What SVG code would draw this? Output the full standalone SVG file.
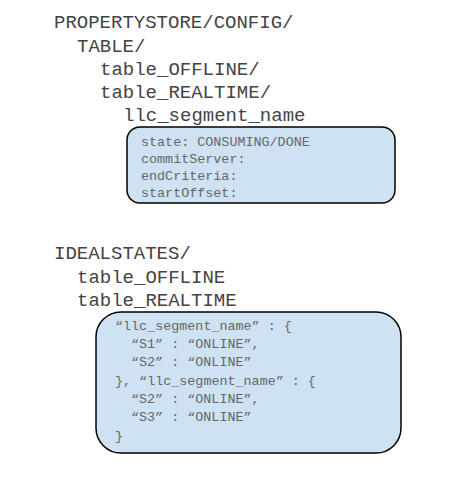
<svg xmlns="http://www.w3.org/2000/svg" width="449" height="488" viewBox="0 0 449 488">
<style>
.big{font-family:"Liberation Mono","Courier New",monospace;font-size:19px;fill:#444}
.sm{font-family:"Liberation Mono","Courier New",monospace;font-size:13.4px;fill:#666}
.box{fill:#cfe2f3;stroke:#000;stroke-width:1.5}
</style>
<rect width="449" height="488" fill="#fff"/>
<g id="propertystore">
<text class="big" x="54" y="28">PROPERTYSTORE/CONFIG/</text>
<text class="big" x="77" y="52">TABLE/</text>
<text class="big" x="100" y="75">table_OFFLINE/</text>
<text class="big" x="100" y="98">table_REALTIME/</text>
<text class="big" x="123" y="121">llc_segment_name</text>
</g>
<g id="segment-metadata">
<rect class="box" x="127" y="127" width="268" height="76" rx="13"/>
<text class="sm" x="141" y="146">state: CONSUMING/DONE</text>
<text class="sm" x="141" y="163">commitServer:</text>
<text class="sm" x="141" y="180">endCriteria:</text>
<text class="sm" x="141" y="197">startOffset:</text>
</g>
<g id="idealstates">
<text class="big" x="54" y="259">IDEALSTATES/</text>
<text class="big" x="77" y="283">table_OFFLINE</text>
<text class="big" x="77" y="306">table_REALTIME</text>
</g>
<g id="idealstate-content">
<rect class="box" x="96" y="312" width="305" height="141" rx="25"/>
<text class="sm" x="115" y="330">“llc_segment_name” : {</text>
<text class="sm" x="131" y="348">“S1” : “ONLINE”,</text>
<text class="sm" x="131" y="366">“S2” : “ONLINE”</text>
<text class="sm" x="115" y="385">}, “llc_segment_name” : {</text>
<text class="sm" x="131" y="403">“S2” : “ONLINE”,</text>
<text class="sm" x="131" y="421">“S3” : “ONLINE”</text>
<text class="sm" x="115" y="440">}</text>
</g>
<g id="connectors"></g>
</svg>
